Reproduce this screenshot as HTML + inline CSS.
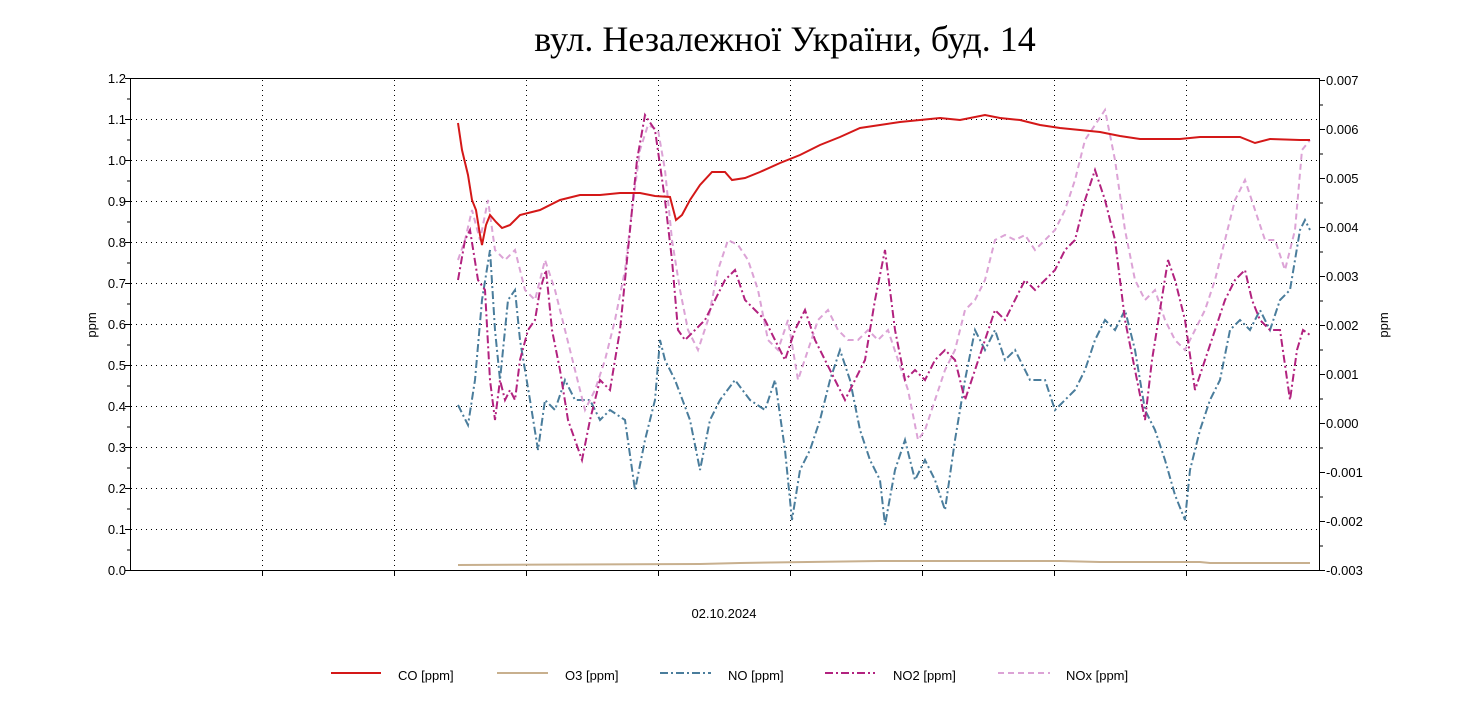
<!DOCTYPE html>
<html><head><meta charset="utf-8"><style>
html,body{margin:0;padding:0;background:#fff;}
svg text{font-family:"Liberation Sans",Arial,sans-serif;font-size:13px;fill:#000;}
</style></head><body>
<svg width="1471" height="697" xmlns="http://www.w3.org/2000/svg">
<text x="785" y="51" text-anchor="middle" style="font-family:'Liberation Serif','DejaVu Serif',serif;font-size:36px">вул. Незалежної України, буд. 14</text>
<g stroke="#000" stroke-width="1" stroke-dasharray="1,4" fill="none">
<path d="M131 119.5H1319M131 160.5H1319M131 201.5H1319M131 242.5H1319M131 283.5H1319M131 324.5H1319M131 365.5H1319M131 406.5H1319M131 447.5H1319M131 488.5H1319M131 529.5H1319"/>
<path d="M262.5 80V570M394.5 80V570M526.5 80V570M658.5 80V570M790.5 80V570M922.5 80V570M1054.5 80V570M1186.5 80V570"/>
</g>
<g stroke="#000" stroke-width="1" fill="none">
<path d="M130.5 78V570.5H1319.5V78M130 78.5H1320"/>
<path d="M125 78.5h6M125 119.5h6M125 160.5h6M125 201.5h6M125 242.5h6M125 283.5h6M125 324.5h6M125 365.5h6M125 406.5h6M125 447.5h6M125 488.5h6M125 529.5h6M125 570.5h6"/>
<path d="M127 99h4M127 140h4M127 181h4M127 222h4M127 263h4M127 304h4M127 345h4M127 386h4M127 427h4M127 468h4M127 509h4M127 550h4"/>
<path d="M1319 80.5h6M1319 129.5h6M1319 178.5h6M1319 227.5h6M1319 276.5h6M1319 325.5h6M1319 374.5h6M1319 423.5h6M1319 472.5h6M1319 521.5h6M1319 570.5h6"/>
<path d="M1319 105h4M1319 154h4M1319 203h4M1319 252h4M1319 301h4M1319 350h4M1319 399h4M1319 448h4M1319 497h4M1319 546h4"/>
<path d="M262.5 570v6M394.5 570v6M526.5 570v6M658.5 570v6M790.5 570v6M922.5 570v6M1054.5 570v6M1186.5 570v6"/>
</g>
<g text-anchor="end">
<text x="126" y="83">1.2</text><text x="126" y="124">1.1</text><text x="126" y="165">1.0</text><text x="126" y="206">0.9</text><text x="126" y="247">0.8</text><text x="126" y="288">0.7</text><text x="126" y="329">0.6</text><text x="126" y="370">0.5</text><text x="126" y="411">0.4</text><text x="126" y="452">0.3</text><text x="126" y="493">0.2</text><text x="126" y="534">0.1</text><text x="126" y="575">0.0</text>
</g>
<g>
<text x="1326" y="85">0.007</text><text x="1326" y="134">0.006</text><text x="1326" y="183">0.005</text><text x="1326" y="232">0.004</text><text x="1326" y="281">0.003</text><text x="1326" y="330">0.002</text><text x="1326" y="379">0.001</text><text x="1326" y="428">0.000</text><text x="1326" y="477">-0.001</text><text x="1326" y="526">-0.002</text><text x="1326" y="575">-0.003</text>
</g>
<text transform="translate(96,325) rotate(-90)" text-anchor="middle">ppm</text>
<text transform="translate(1388,325) rotate(-90)" text-anchor="middle">ppm</text>
<text x="724" y="618" text-anchor="middle">02.10.2024</text>
<g fill="none" stroke-width="2">
<polyline stroke="#c8b08e" points="458,565 700,564 740,563 880,561 1060,561 1100,562 1200,562 1210,563 1310,563"/>
<polyline stroke="#4a7d9c" stroke-dasharray="8,3,2,3" points="458,405 468,425 475,380 482,300 490,250 495,330 500,380 508,300 515,290 520,340 530,400 538,450 545,400 555,410 565,380 575,400 590,400 600,420 610,410 625,420 635,490 645,440 655,400 660,340 665,360 675,380 690,420 700,470 710,420 720,400 735,380 750,400 765,410 775,380 785,450 792,520 800,470 810,450 820,420 830,380 840,350 850,380 860,430 870,460 880,480 885,525 895,470 905,440 915,480 925,460 935,480 945,510 955,440 965,380 975,330 985,350 995,330 1005,360 1015,350 1030,380 1045,380 1055,410 1065,400 1075,390 1085,370 1095,340 1105,320 1115,330 1125,310 1135,350 1145,410 1155,430 1165,460 1175,495 1185,520 1190,470 1200,430 1210,400 1220,380 1230,330 1240,320 1250,330 1260,310 1270,330 1280,300 1290,290 1300,230 1305,220 1310,230"/>
<polyline stroke="#dca3d6" stroke-dasharray="6,4" points="458,260 465,240 472,210 480,240 488,200 495,250 505,260 515,250 525,290 535,300 545,260 555,290 565,330 575,370 585,410 595,390 605,360 615,320 625,270 632,210 640,150 648,125 658,130 665,170 672,240 680,290 688,330 698,350 708,320 718,270 728,240 738,245 748,260 758,290 768,340 778,350 788,320 798,380 808,350 818,320 828,310 838,330 848,340 858,340 868,330 878,340 888,330 898,360 908,390 918,440 925,430 935,400 945,370 955,350 965,310 975,300 985,280 995,240 1005,235 1015,240 1025,235 1035,250 1045,240 1055,230 1065,210 1075,180 1085,140 1095,125 1105,110 1115,160 1125,230 1135,280 1145,300 1155,290 1165,320 1175,340 1185,350 1195,330 1205,310 1215,280 1225,240 1235,200 1245,180 1255,210 1265,240 1275,240 1285,270 1295,230 1302,150 1310,140"/>
<polyline stroke="#b2227f" stroke-dasharray="8,3,2,3" points="458,280 465,240 470,230 478,280 485,290 490,380 495,420 500,380 505,400 510,390 515,400 520,360 528,330 535,320 540,290 546,270 552,330 560,370 568,420 575,440 582,460 590,420 600,380 610,390 620,330 625,280 630,230 637,160 645,115 655,130 665,200 672,260 678,330 685,340 695,330 705,320 715,300 725,280 735,270 745,300 755,310 765,320 775,340 785,360 795,330 805,310 815,340 825,360 835,380 845,400 855,380 865,360 875,300 885,250 895,330 905,380 915,370 925,380 935,360 945,350 955,360 965,400 975,370 985,340 995,310 1005,320 1015,300 1025,280 1035,290 1045,280 1055,270 1065,250 1075,240 1085,200 1095,170 1105,200 1115,240 1125,320 1135,370 1145,420 1152,360 1160,310 1168,260 1175,280 1185,320 1195,390 1205,360 1215,330 1225,300 1235,280 1245,270 1252,300 1260,320 1270,330 1280,330 1290,400 1297,350 1303,330 1310,335"/>
<polyline stroke="#d41818" points="458,123 462,150 468,175 472,200 476,210 480,235 482,245 486,225 490,215 496,222 502,228 510,225 520,215 540,210 560,200 580,195 600,195 620,193 640,193 655,196 670,197 676,220 682,215 690,200 700,185 712,172 725,172 732,180 745,178 760,172 780,163 800,155 820,145 840,137 860,128 880,125 900,122 920,120 940,118 960,120 985,115 1000,118 1020,120 1040,125 1060,128 1080,130 1100,132 1120,136 1140,139 1180,139 1200,137 1240,137 1255,143 1270,139 1300,140 1310,140"/>
</g>
<g fill="none" stroke-width="2">
<line x1="331" y1="673" x2="381" y2="673" stroke="#d41818"/>
<line x1="497" y1="673" x2="548" y2="673" stroke="#c8b08e"/>
<line x1="660" y1="673" x2="711" y2="673" stroke="#4a7d9c" stroke-dasharray="8,3,2,3"/>
<line x1="825" y1="673" x2="875" y2="673" stroke="#b2227f" stroke-dasharray="8,3,2,3"/>
<line x1="998" y1="673" x2="1050" y2="673" stroke="#dca3d6" stroke-dasharray="6,4"/>
</g>
<text x="398" y="680">CO [ppm]</text>
<text x="565" y="680">O3 [ppm]</text>
<text x="728" y="680">NO [ppm]</text>
<text x="893" y="680">NO2 [ppm]</text>
<text x="1066" y="680">NOx [ppm]</text>
</svg>
</body></html>
